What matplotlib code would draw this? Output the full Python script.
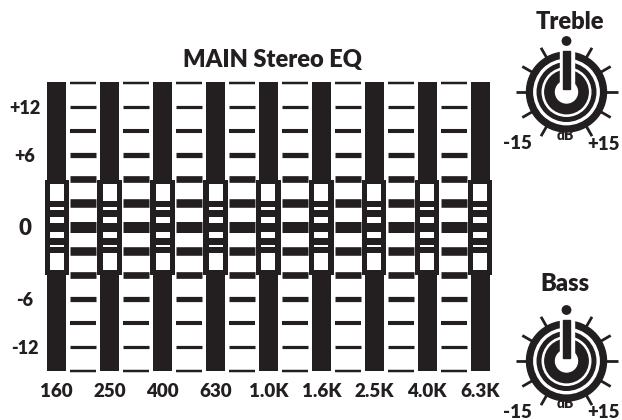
import numpy as np
import matplotlib
matplotlib.use('Agg')
import matplotlib.pyplot as plt
from matplotlib.patches import Rectangle, Circle, Polygon

plt.rcParams['font.family'] = ['Lato', 'DejaVu Sans']
plt.rcParams['font.weight'] = 'heavy'

# EQ data
bands = ['160', '250', '400', '630', '1.0K', '1.6K', '2.5K', '4.0K', '6.3K']
gains_db = [0, 0, 0, 0, 0, 0, 0, 0, 0]
scale_labels = ['+12', '+6', '0', '-6', '-12']
scale_db = [12, 6, 0, -6, -12]
# fader law: dB -> tick slot (the printed scale is not linear)
law_db = [-18, -12, -6, 0, 6, 12, 18]
law_slot = [-6, -5, -3, 0, 3, 5, 6]
n_slots = 6

# knob data
knob_names = ['Treble', 'Bass']
knob_values = [0, 0]
knob_range = (-15, 15)
knob_step = 3

DARK = '#231f20'
W, H = 622, 420
WT = 'heavy'

fig = plt.figure(figsize=(W / 100, H / 100), dpi=100)
fig.patch.set_facecolor('white')

x_first = 56.8      # px of first band
x_pitch = 52.9      # px between bands
y_zero = 227.3      # px of 0 dB
px_per_slot = 24.0


def slot(db):
    return np.interp(db, law_db, law_slot)


ax = fig.add_axes([0, 0, 1, 1])
ax.set_xlim(-x_first / x_pitch, (W - x_first) / x_pitch)
ax.set_ylim(-(H - y_zero) / px_per_slot, y_zero / px_per_slot)
ax.axis('off')

idx = np.arange(len(bands))

# slider slots
ax.bar(idx, 2 * n_slots + 0.05, bottom=-n_slots, width=19 / x_pitch, color=DARK, zorder=2)

# level ticks between slots, thicker toward the middle
levels = np.arange(-n_slots, n_slots + 1)
thick_px = 11 * 0.78 ** np.abs(levels)
half = 13.0 / x_pitch
for i in range(len(bands) - 1):
    ax.hlines(levels, i + 0.5 - half, i + 0.5 + half, colors=DARK,
              linewidths=thick_px * 0.72, zorder=2)

# fader caps
cap_w = 24.5 / x_pitch
cap_h = 95.3 / px_per_slot
win_w = 14.0 / x_pitch
windows_px = [(26, 43), (17.5, 20), (4.5, 10.5)]
for i, g in zip(idx, gains_db):
    s = slot(g)
    ax.add_patch(Rectangle((i - cap_w / 2, s - cap_h / 2), cap_w, cap_h,
                           facecolor=DARK, edgecolor='none', zorder=3))
    for a, b in windows_px:
        for sgn in (1, -1):
            y0 = s + sgn * a / px_per_slot
            y1 = s + sgn * b / px_per_slot
            ax.add_patch(Rectangle((i - win_w / 2, min(y0, y1)), win_w, abs(y1 - y0),
                                   facecolor='white', edgecolor='none', zorder=4))

# dB scale labels
lab_x = (25 - x_first) / x_pitch
for v, t in zip(scale_db, scale_labels):
    fs = 16 if v == 0 else 13
    ax.text(lab_x, slot(v) - (fs * 0.5) / px_per_slot, t, ha='center', va='baseline',
            fontsize=fs, fontweight=WT, color=DARK)

# band labels
for i, t in zip(idx, bands):
    ax.text(i, (y_zero - 397) / px_per_slot, t, ha='center', va='baseline',
            fontsize=13.5, fontweight=WT, color=DARK)

fig.text(272 / W, 1 - 66.5 / H, 'MAIN Stereo EQ', ha='center', va='baseline',
         fontsize=17, fontweight=WT, color=DARK)


def rot_rect(ang, r0, r1, width):
    # rectangle along direction ang (radians from vertical, clockwise)
    d = np.array([np.sin(ang), np.cos(ang)])
    n = np.array([np.cos(ang), -np.sin(ang)])
    w = width / 2
    return [d * r0 - n * w, d * r1 - n * w, d * r1 + n * w, d * r0 + n * w]


def draw_knob(cx, cy, value, name, title_xy):
    size = 140
    kax = fig.add_axes([(cx - size / 2) / W, 1 - (cy + size / 2) / H, size / W, size / H])
    kax.set_xlim(-size / 2, size / 2)
    kax.set_ylim(-size / 2, size / 2)
    kax.set_aspect('equal')
    kax.axis('off')

    vmin, vmax = knob_range
    for v in np.arange(vmin, vmax + knob_step, knob_step):
        a = np.radians(v / vmax * 150)
        if v == 0:
            kax.add_patch(Circle((51 * np.sin(a), 51 * np.cos(a)), 4.2, color=DARK))
        else:
            kax.plot([38 * np.sin(a), 51 * np.sin(a)], [38 * np.cos(a), 51 * np.cos(a)],
                     color=DARK, lw=2.0, solid_capstyle='butt')

    rings = [(40, DARK), (32.7, 'white'), (29.3, DARK), (24.3, 'white'),
             (21.7, DARK), (11, 'white')]
    for r, c in rings:
        kax.add_patch(Circle((0, 0), r, color=c))

    a = np.radians(value / vmax * 150)
    kax.add_patch(Polygon(rot_rect(a, 0, 44, 14), closed=True, color='white'))
    kax.add_patch(Polygon(rot_rect(a, 3.5, 41, 7.3), closed=True, color=DARK))

    kax.text(-49, -57, '-15', ha='center', va='baseline', fontsize=13.5,
             fontweight=WT, color=DARK)
    kax.text(37, -57.5, '+15', ha='center', va='baseline', fontsize=13.5,
             fontweight=WT, color=DARK)
    kax.text(-1, -47.5, 'dB', ha='center', va='baseline', fontsize=10,
             fontweight=WT, color=DARK)

    fig.text(title_xy[0] / W, 1 - title_xy[1] / H, name, ha='center', va='baseline',
             fontsize=17, fontweight=WT, color=DARK)


draw_knob(566.5, 92, knob_values[0], knob_names[0], (570, 29))
draw_knob(566.5, 361, knob_values[1], knob_names[1], (565, 291))

fig.savefig('out.png', dpi=100, facecolor='white')
